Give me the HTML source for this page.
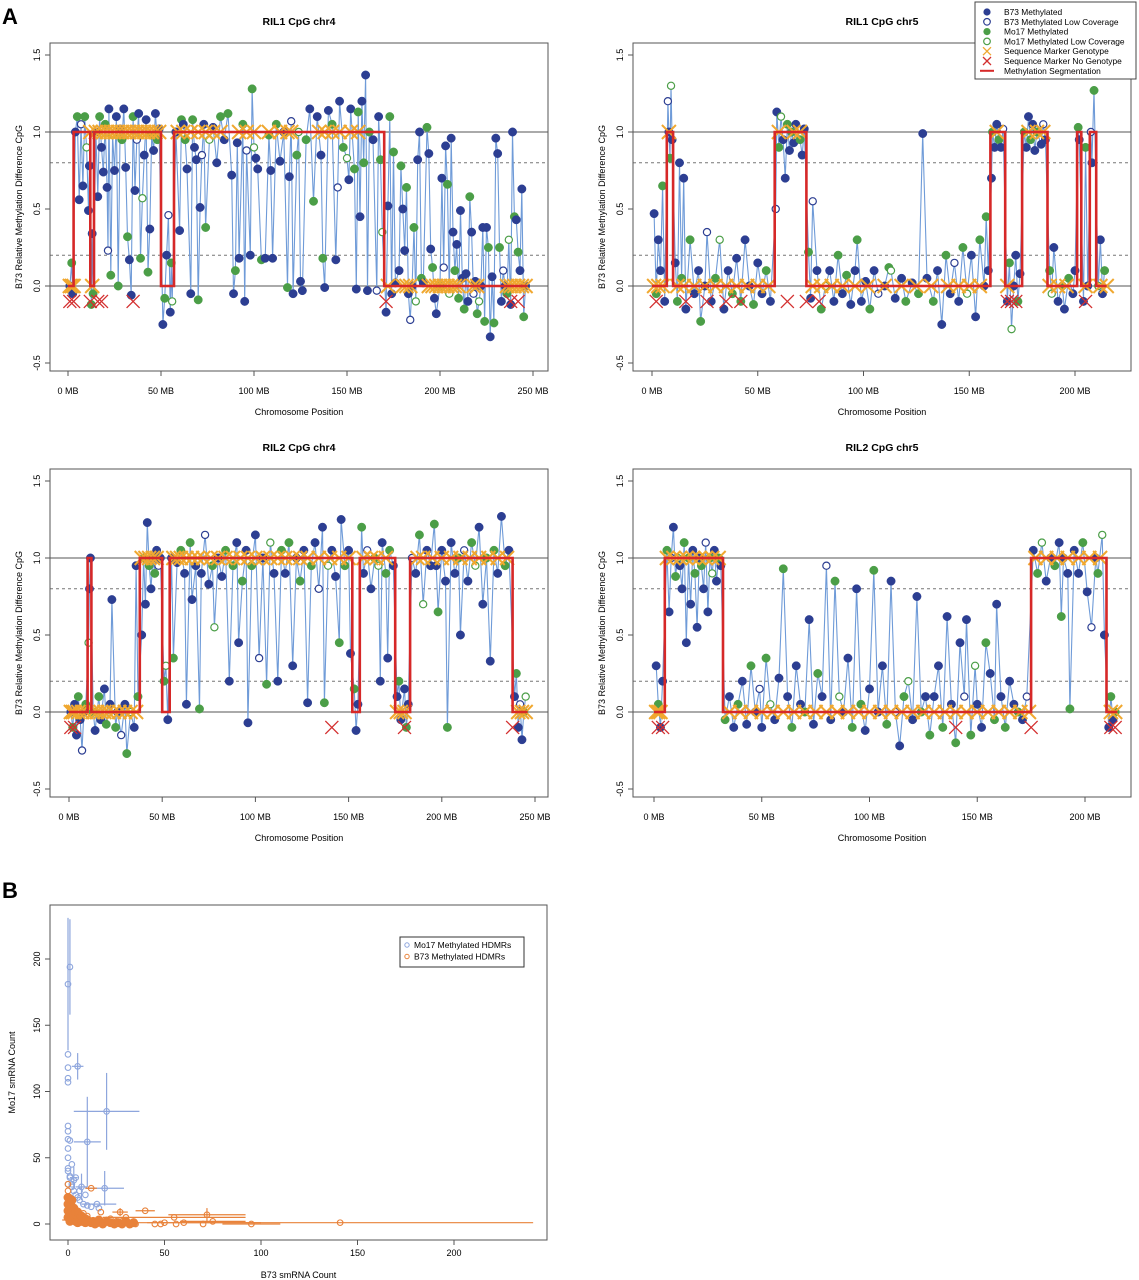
<!DOCTYPE html>
<html><head><meta charset="utf-8"><style>
html,body{margin:0;padding:0;background:#fff;}
svg{display:block;font-family:"Liberation Sans",Arial,sans-serif;}
</style></head><body>
<svg id="fig" width="1139" height="1280" viewBox="0 0 1139 1280" xmlns="http://www.w3.org/2000/svg">
<rect width="1139" height="1280" fill="#fff"/>
<text x="2" y="24" font-size="22" font-weight="bold">A</text>
<text x="2" y="898" font-size="22" font-weight="bold">B</text>
<g id="layer"></g>
</svg>
<script>
// ---------- Panel A data ----------
const p1Segments=[[0,3,0],[3,12,1],[12,14,0],[14,50,1],[50,57,0],[57,170,1],[170,247,0]];
const p1Points=[[1,0.0],[2,0.15],[2.5,-0.05],[4,1.0],[5,1.1],[6,0.56],[7,1.05],[8,0.65],[9,1.1],[10,0.9],[11,0.49],[11.5,0.78],[12.5,-0.12],[13,0.34],[13.5,-0.05],[15,1.0],[16,0.58],[17,1.1],[18,0.9],[19,0.74],[20,1.05],[21,0.64],[21.5,0.23],[22,1.15],[23,0.07],[24,0.98],[25,0.75],[26,1.1],[27,0.0],[28,1.02],[29,0.95],[30,1.15],[31,0.77],[32,0.32],[33,0.17],[34,-0.06],[35,1.1],[36,0.62],[37,0.95],[38,1.12],[39,0.18],[40,0.57],[41,0.85],[42,1.08],[43,0.09],[44,0.37],[45,0.98],[46,0.88],[47,1.12],[48,0.95],[49,1.02],[51,-0.25],[52,-0.08],[53,0.2],[54,0.46],[55,-0.17],[55.5,0.15],[56,-0.1],[58,1.0],[60,0.36],[61,1.08],[62,1.05],[63,0.95],[64,0.76],[66,-0.05],[67,1.08],[68,0.9],[69,0.82],[70,-0.09],[71,0.51],[72,0.85],[73,1.05],[74,0.38],[76,0.95],[78,1.03],[80,0.8],[82,1.1],[84,0.95],[86,1.12],[88,0.72],[89,-0.05],[90,0.1],[91,0.93],[92,0.18],[94,1.05],[95,-0.1],[96,0.88],[98,0.2],[99,1.28],[100,0.9],[101,0.83],[102,0.76],[104,0.17],[106,0.18],[108,0.98],[109,0.75],[110,0.18],[112,1.05],[114,0.81],[116,1.0],[118,-0.01],[119,0.71],[120,1.07],[121,-0.05],[123,0.85],[124,1.0],[125,0.03],[126,-0.03],[128,0.95],[130,1.15],[132,0.55],[134,1.1],[136,0.85],[137,0.18],[138,-0.01],[140,1.14],[142,1.05],[144,0.17],[145,0.64],[146,1.2],[148,0.9],[150,0.83],[151,0.69],[152,1.15],[154,0.76],[155,-0.02],[156,1.13],[157,0.45],[158,1.2],[159,0.8],[160,1.37],[161,-0.03],[162,1.0],[164,0.95],[166,-0.03],[167,1.1],[168,0.82],[169,0.35],[171,-0.17],[172,0.52],[173,1.1],[174,-0.05],[175,0.87],[176,0.02],[178,0.1],[179,0.78],[180,0.5],[181,0.23],[182,0.64],[183,-0.05],[184,-0.22],[185,0.0],[186,0.38],[187,-0.1],[188,0.82],[189,1.0],[190,0.05],[191,0.02],[193,1.03],[194,0.86],[195,0.24],[196,0.12],[197,-0.08],[198,-0.18],[200,0.0],[201,0.7],[202,0.12],[203,0.91],[204,0.66],[205,-0.05],[206,0.96],[207,0.35],[208,0.1],[209,0.27],[210,-0.08],[211,0.49],[212,0.05],[213,-0.15],[214,0.08],[215,-0.1],[216,0.58],[217,0.35],[218,-0.05],[219,0.03],[220,-0.18],[221,-0.1],[222,0.0],[223,0.38],[224,-0.23],[225,0.38],[226,0.25],[227,-0.33],[228,0.06],[229,-0.24],[230,0.96],[231,0.86],[232,0.25],[233,-0.1],[234,0.1],[235,0.0],[236,-0.05],[237,0.3],[238,-0.12],[239,1.0],[240,0.45],[241,0.43],[242,0.22],[243,0.1],[244,0.63],[245,-0.2],[246,0.0]];
const p1Geno=[1,2,3,12,13,15,17,19,21,23,25,27,29,31,33,35,37,39,41,43,45,47,49,59,62,66,70,74,78,82,92,96,100,108,114,118,120,135,138,142,146,152,156,172,180,182,184,194,196,198,200,202,204,206,208,210,218,220,236,238,240,242,244,246];
const p1NoGeno=[1,3,12,16,18,35,171,238,242];

const p2Segments=[[0,7,0],[7,10,1],[10,58,0],[58,73,1],[73,160,0],[160,167,1],[167,175,0],[175,187,1],[187,201,0],[201,203,1],[203,207,0],[207,210,1],[210,215,0]];
const p2Points=[[1,0.47],[2,-0.05],[3,0.3],[4,0.1],[5,0.65],[6,-0.1],[7.5,1.2],[8,1.0],[8.5,0.83],[9,1.3],[9.5,0.95],[11,0.15],[12,-0.1],[13,0.8],[14,0.05],[15,0.7],[16,-0.15],[18,0.3],[20,-0.05],[22,0.1],[23,-0.23],[25,0.0],[26,0.35],[28,-0.1],[30,0.05],[32,0.3],[34,-0.15],[36,0.1],[38,-0.05],[40,0.18],[42,-0.1],[44,0.3],[46,0.0],[48,-0.12],[50,0.15],[52,-0.05],[54,0.1],[56,-0.1],[58.5,0.5],[59,1.13],[60,0.9],[61,1.1],[62,0.95],[63,0.7],[64,1.05],[65,0.88],[66,1.0],[67,0.93],[68,1.05],[70,0.95],[71,0.85],[72,1.02],[74,0.22],[75,-0.08],[76,0.55],[78,0.1],[80,-0.15],[82,0.0],[84,0.1],[86,-0.1],[88,0.2],[90,-0.05],[92,0.07],[94,-0.12],[96,0.1],[97,0.3],[99,-0.1],[101,0.03],[103,-0.15],[105,0.1],[107,-0.05],[110,0.0],[112,0.12],[113,0.1],[115,-0.08],[118,0.05],[120,-0.1],[123,0.02],[126,-0.05],[128,0.99],[130,0.05],[133,-0.1],[135,0.1],[137,-0.25],[139,0.2],[141,-0.05],[143,0.15],[145,-0.1],[147,0.25],[149,-0.05],[151,0.2],[153,-0.2],[155,0.3],[157,0.0],[158,0.45],[159,0.1],[160.5,0.7],[161,1.0],[162,0.9],[163,1.05],[164,0.95],[165,0.9],[166,1.02],[168,-0.1],[169,0.15],[170,-0.28],[171,0.0],[172,0.2],[173,-0.1],[174,0.08],[176,1.0],[177,0.9],[178,1.1],[179,0.95],[180,1.05],[181,0.88],[182,1.0],[184,0.92],[185,1.05],[186,0.95],[188,0.1],[189,-0.05],[190,0.25],[192,-0.1],[194,0.0],[195,-0.15],[197,0.05],[199,-0.05],[200,0.1],[201.5,1.03],[202,0.95],[204,-0.1],[205,0.9],[206,0.0],[207.5,1.0],[208,0.8],[209,1.27],[211,0.0],[212,0.3],[213,-0.05],[214,0.1]];
const p2Geno=[1,3,5,8,12,15,20,25,30,35,40,45,50,55,60,67,70,76,80,85,90,96,102,110,118,125,132,140,145,150,155,163,168,178,182,185,188,192,196,205,212,215];
const p2NoGeno=[2,16,26,35,42,64,73,79,168,170,172,205];

const p3Segments=[[0,10,0],[10,12,1],[12,38,0],[38,50,1],[50,54,0],[54,152,1],[152,156,0],[156,175,1],[175,183,0],[183,238,1],[238,246,0]];
const p3Points=[[1,0.0],[2,-0.1],[3,0.05],[4,-0.15],[5,0.1],[6,-0.05],[7,-0.25],[8,0.0],[9,0.05],[10.5,0.45],[11,0.8],[11.5,1.0],[13,0.0],[14,-0.12],[16,0.1],[17,-0.05],[19,0.15],[20,-0.08],[22,0.05],[23,0.73],[25,-0.1],[26,0.0],[28,-0.15],[30,0.05],[31,-0.27],[33,0.0],[35,-0.1],[36,0.95],[37,0.1],[39,0.5],[40,1.0],[41,0.7],[42,1.23],[43,0.95],[44,0.8],[45,1.0],[46,0.9],[47,1.05],[48,0.95],[49,1.0],[51,0.2],[52,0.3],[53,-0.05],[55,1.0],[56,0.35],[58,0.97],[60,1.05],[62,0.9],[63,0.05],[65,1.1],[66,0.73],[68,0.95],[70,0.02],[71,0.9],[73,1.15],[75,0.83],[77,0.95],[78,0.55],[80,1.0],[82,0.88],[84,1.05],[86,0.2],[88,0.95],[90,1.1],[91,0.45],[93,0.85],[95,1.05],[96,-0.07],[98,0.95],[100,1.15],[102,0.35],[104,1.0],[106,0.18],[108,1.1],[110,0.9],[112,0.2],[114,1.05],[116,0.9],[118,1.1],[120,0.3],[122,1.0],[124,0.85],[126,1.05],[128,0.06],[130,0.95],[132,1.1],[134,0.8],[136,1.2],[137,0.06],[139,0.95],[141,1.05],[143,0.88],[145,0.45],[146,1.25],[148,0.95],[150,1.05],[151,0.38],[153,0.15],[154,-0.12],[155,0.05],[157,1.2],[158,0.9],[160,1.05],[162,0.8],[164,1.0],[166,0.95],[167,0.2],[168,1.1],[170,0.9],[171,0.35],[172,1.05],[174,0.95],[176,0.1],[177,0.2],[178,-0.05],[180,0.15],[181,-0.1],[182,0.05],[184,1.0],[186,0.9],[188,1.15],[190,0.7],[192,1.05],[194,0.95],[196,1.22],[197,0.95],[198,0.65],[200,1.05],[202,0.85],[203,-0.1],[205,1.1],[207,0.9],[209,1.0],[210,0.5],[212,1.05],[214,0.85],[216,1.1],[218,0.95],[220,1.2],[222,0.7],[224,1.0],[226,0.33],[228,1.05],[230,0.9],[232,1.27],[234,0.95],[236,1.05],[239,0.1],[240,0.25],[241,-0.1],[242,0.05],[243,-0.18],[244,0.0],[245,0.1]];
const p3Geno=[1,2,3,5,7,9,13,15,17,19,21,24,27,30,33,36,39,41,43,45,47,56,58,60,63,66,69,72,76,80,84,88,92,96,100,104,108,112,116,120,124,128,134,140,145,150,158,162,165,170,176,178,180,187,190,195,200,205,210,215,220,225,230,235,241,243,245];
const p3NoGeno=[1,3,141,180,238];

const p4Segments=[[0,5,0],[5,32,1],[32,175,0],[175,210,1],[210,215,0]];
const p4Points=[[1,0.3],[2,0.05],[3,-0.1],[4,0.2],[6,1.05],[7,0.65],[8,1.0],[9,1.2],[10,0.88],[11,1.0],[12,0.95],[13,0.8],[14,1.1],[15,0.45],[16,1.0],[17,0.7],[18,1.05],[19,0.9],[20,0.55],[21,1.0],[22,0.95],[23,0.8],[24,1.1],[25,0.65],[26,1.0],[27,0.9],[28,1.05],[29,0.85],[30,1.0],[31,0.95],[33,-0.05],[35,0.1],[37,-0.1],[39,0.05],[41,0.2],[43,-0.08],[45,0.3],[47,0.0],[49,0.15],[50,-0.1],[52,0.35],[54,0.05],[56,-0.05],[58,0.22],[60,0.93],[62,0.1],[64,-0.1],[66,0.3],[68,0.05],[70,0.0],[72,0.6],[74,-0.08],[76,0.25],[78,0.1],[80,0.95],[82,-0.05],[84,0.85],[86,0.1],[88,0.0],[90,0.35],[92,-0.1],[94,0.8],[96,0.05],[98,-0.12],[100,0.15],[102,0.92],[104,0.0],[106,0.3],[108,-0.08],[110,0.85],[112,0.0],[114,-0.22],[116,0.1],[118,0.2],[120,-0.05],[122,0.75],[124,0.0],[126,0.1],[128,-0.15],[130,0.1],[132,0.3],[134,-0.1],[136,0.62],[138,0.05],[140,-0.2],[142,0.45],[144,0.1],[145,0.6],[147,-0.15],[149,0.3],[150,0.05],[152,-0.1],[154,0.45],[156,0.25],[158,-0.05],[159,0.7],[161,0.1],[163,-0.1],[165,0.2],[167,0.05],[169,0.0],[171,-0.05],[173,0.1],[176,1.05],[178,0.9],[180,1.1],[182,0.85],[184,1.0],[186,0.95],[188,1.1],[189,0.62],[190,1.0],[192,0.9],[193,0.02],[195,1.05],[197,0.9],[199,1.1],[201,0.78],[203,0.55],[205,1.0],[206,0.9],[208,1.15],[209,0.5],[211,-0.1],[212,0.1],[213,-0.05],[214,0.0]];
const p4Geno=[1,2,3,6,9,12,15,18,21,24,27,30,35,40,45,50,55,60,65,70,75,80,85,90,95,100,105,110,115,120,125,130,135,140,145,150,155,160,165,170,174,177,182,187,192,197,202,207,212,214];
const p4NoGeno=[2,4,140,175,212,214];

const pointTypes="BMBBMBbBMmBBMBMB";
const yTicksA=[-0.5,0,0.5,1,1.5];
const xTicksChr4=[0,50,100,150,200,250];
const xTicksChr5=[0,50,100,150,200];

// ---------- Panel B data ----------
const blueX=[0,1,0,0,0,0,5,20,10,19,7,2,0,0,0,1,0,0,0,1,2,3,4,5,6,8,10,12,15,3,2,1,0,4,6,1,2,0,9,16];
const blueY=[181,194,128,118,110,107,119,85,62,27,28,45,74,70,64,63,57,50,40,35,30,25,22,20,18,15,14,13,15,33,28,36,42,35,25,20,18,30,22,12];
const blueErr=[[0,181,0,50],[1,194,0,36],[5,119,3,10],[20,85,17,29],[10,62,7,34],[19,27,10,13],[7,28,3,10],[16,15,9,0],[3,35,2,8]];
const orangeX=[141,95,75,72,55,40,27,12,70,50,48,56,30,20,17,25,35,33,22,10,8,5,3,2,1,0,0,1,4,6,14,18,28,45,60];
const orangeY=[1,0,2,7,5,10,9,27,0,1,0,0,5,3,9,2,0,1,4,6,8,10,12,15,20,25,30,3,2,5,1,0,2,0,1];
const orangeErr=[[141,1,100,0],[95,0,15,0],[75,2,17,0],[72,7,20,5],[55,5,37,0],[40,10,5,0],[27,9,4,3],[12,27,3,0],[50,1,50,0],[0,3,15,0]];
const blobX=[0,0,0,0,1,1,1,2,2,2,3,3,4,4,5,5,6,7,8,9,10,11,12,13,14,15,16,18,20,22,24,26,28,30,32,34,3,5,7,9];
const blobY=[5,10,15,20,2,8,14,4,10,18,3,7,2,6,1,5,3,2,4,1,3,2,1,2,0,1,3,0,2,1,0,1,0,2,0,1,12,9,6,4];
const xTicksB=[0,50,100,150,200];
const yTicksB=[0,50,100,150,200];

const NS="http://www.w3.org/2000/svg";
const layer=document.getElementById('layer');
function mk(tag,attrs,parent){const e=document.createElementNS(NS,tag);for(const k in attrs)e.setAttribute(k,attrs[k]);(parent||layer).appendChild(e);return e;}

const NAVY="#2c3e92",GREEN="#4b9e47",LINE="#6f9bd8",ORANGE="#f0a830",RED="#d32f2f",SEG="#d62828";

function drawPanel(cfg){
  const g=mk('g',{});
  
  
  const xs=v=>cfg.x0+v*cfg.kx;
  const ys=v=>cfg.y0-v*cfg.ky;
  [[1,false],[0,false],[0.8,true],[0.2,true]].forEach(([v,d])=>{
    const l=mk('line',{x1:cfg.L,x2:cfg.R,y1:ys(v),y2:ys(v),stroke:'#777','stroke-width':d?1:1.2,'stroke-dasharray':d?'3,3':'none'},g);
    
    
  });
  const pts=cfg.points;
  let d='';
  pts.forEach((p,i)=>{d+=(i?'L':'M')+xs(p[0]).toFixed(1)+','+ys(p[1]).toFixed(1);});
  const pl=mk('path',{d:d,fill:'none',stroke:LINE,'stroke-width':1.1},g);
  
  
  pts.forEach((p,i)=>{
    const t=pointTypes[i%pointTypes.length];
    const col=(t==='B'||t==='b')?NAVY:GREEN;
    const filled=(t==='B'||t==='M');
    const c=mk('circle',{cx:xs(p[0]),cy:ys(p[1]),r:filled?4.2:3.6,fill:filled?col:'#fff','stroke':col,'stroke-width':filled?0.5:1.2},g);
    
    
  });
  const levelAt=pos=>{for(const s of cfg.segments){if(pos>=s[0]&&pos<=s[1])return s[2];}return 0;};
  function cross(x,y,s,col,w){
    return mk('path',{d:`M${x-s},${y-s}L${x+s},${y+s}M${x-s},${y+s}L${x+s},${y-s}`,stroke:col,'stroke-width':w,fill:'none'},g);
  }
  cfg.geno.forEach(p=>{
    const e=cross(xs(p),ys(levelAt(p)),7,ORANGE,2);
    
    
  });
  cfg.nogeno.forEach(p=>{
    const e=cross(xs(p),ys(-0.1),6.5,RED,1.3);
    
    
  });
  let sd='';
  cfg.segments.forEach((s,i)=>{
    sd+=(i?'L':'M')+xs(s[0]).toFixed(1)+','+ys(s[2]).toFixed(1)+'L'+xs(s[1]).toFixed(1)+','+ys(s[2]).toFixed(1);
  });
  const sp=mk('path',{d:sd,fill:'none',stroke:SEG,'stroke-width':2.6},g);
  
  
  const b=mk('rect',{x:cfg.L,y:cfg.T,width:cfg.R-cfg.L,height:cfg.B-cfg.T,fill:'none',stroke:'#555','stroke-width':1},g);
  
  
  yTicksA.forEach(v=>{
    const y=ys(v);
    mk('line',{x1:cfg.L-5,x2:cfg.L,y1:y,y2:y,stroke:'#555'},g);
    const t=mk('text',{x:cfg.L-10,y:y,'font-size':9,'text-anchor':'middle',transform:`rotate(-90 ${cfg.L-10} ${y})`},g);
    t.textContent=(v===0?'0.0':v.toFixed(1));
    
    
  });
  cfg.xticks.forEach(v=>{
    const x=xs(v);
    mk('line',{x1:x,x2:x,y1:cfg.B,y2:cfg.B+5,stroke:'#555'},g);
    const t=mk('text',{x:x,y:cfg.B+23,'font-size':9,'text-anchor':'middle'},g);
    t.textContent=v+' MB';
    
    
  });
  const xt=mk('text',{x:(cfg.L+cfg.R)/2,y:cfg.B+44,'font-size':9,'text-anchor':'middle'},g);
  xt.textContent='Chromosome Position';
  
  
  const ym=(cfg.T+cfg.B)/2, yx=cfg.L-28;
  const yt=mk('text',{x:yx,y:ym,'font-size':9,'text-anchor':'middle',transform:`rotate(-90 ${yx} ${ym})`},g);
  yt.textContent='B73 Relative Methylation Difference CpG';
  
  
  const tt=mk('text',{x:(cfg.L+cfg.R)/2,y:cfg.T-18,'font-size':10.5,'font-weight':'bold','text-anchor':'middle','xml:space':'preserve'},g);
  tt.textContent=cfg.title;
  
  
}

drawPanel({name:'ril1-chr4-panel',title:'RIL1   CpG chr4',L:50,R:548,T:43,B:371,x0:68,kx:1.86,y0:286,ky:154,segments:p1Segments,points:p1Points,geno:p1Geno,nogeno:p1NoGeno,xticks:xTicksChr4});
drawPanel({name:'ril1-chr5-panel',title:'RIL1   CpG chr5',L:633,R:1131,T:43,B:371,x0:652,kx:2.115,y0:286,ky:154,segments:p2Segments,points:p2Points,geno:p2Geno,nogeno:p2NoGeno,xticks:xTicksChr5});
drawPanel({name:'ril2-chr4-panel',title:'RIL2   CpG chr4',L:50,R:548,T:469,B:797,x0:69,kx:1.864,y0:712,ky:154,segments:p3Segments,points:p3Points,geno:p3Geno,nogeno:p3NoGeno,xticks:xTicksChr4});
drawPanel({name:'ril2-chr5-panel',title:'RIL2   CpG chr5',L:633,R:1131,T:469,B:797,x0:654,kx:2.155,y0:712,ky:154,segments:p4Segments,points:p4Points,geno:p4Geno,nogeno:p4NoGeno,xticks:xTicksChr5});

(function(){
  const g=mk('g',{});
  
  
  mk('rect',{x:975,y:2,width:161,height:77,fill:'#fff',stroke:'#444','stroke-width':1},g);
  const items=[['B73 Methylated','dotB'],['B73 Methylated Low Coverage','openB'],['Mo17 Methylated','dotM'],['Mo17 Methylated Low Coverage','openM'],['Sequence Marker Genotype','xo'],['Sequence Marker No Genotype','xr'],['Methylation Segmentation','seg']];
  items.forEach((it,i)=>{
    const y=12+i*9.8, x=987;
    let s;
    if(it[1]==='dotB')s=mk('circle',{cx:x,cy:y,r:3.6,fill:NAVY},g);
    else if(it[1]==='openB')s=mk('circle',{cx:x,cy:y,r:3.3,fill:'#fff',stroke:NAVY,'stroke-width':1.2},g);
    else if(it[1]==='dotM')s=mk('circle',{cx:x,cy:y,r:3.6,fill:GREEN},g);
    else if(it[1]==='openM')s=mk('circle',{cx:x,cy:y,r:3.3,fill:'#fff',stroke:GREEN,'stroke-width':1.2},g);
    else if(it[1]==='xo')s=mk('path',{d:`M${x-4},${y-4}L${x+4},${y+4}M${x-4},${y+4}L${x+4},${y-4}`,stroke:ORANGE,'stroke-width':1.3},g);
    else if(it[1]==='xr')s=mk('path',{d:`M${x-4},${y-4}L${x+4},${y+4}M${x-4},${y+4}L${x+4},${y-4}`,stroke:RED,'stroke-width':1.3},g);
    else s=mk('line',{x1:x-7,x2:x+7,y1:y,y2:y,stroke:SEG,'stroke-width':2},g);
    
    
    const t=mk('text',{x:1004,y:y+3,'font-size':8.4},g);
    t.textContent=it[0];
    
    
  });
})();

(function(){
  const L=50,R=547,T=905,B=1240;
  const xs=v=>68+v*1.93, ys=v=>1224-v*1.325;
  const BLUE="#8ea6dd",ORG="#e8823a";
  const g=mk('g',{});
  
  
  function errBars(arr,col){
    arr.forEach(e=>{
      if(e[2]>0){const l=mk('line',{x1:xs(Math.max(e[0]-e[2],-3)),x2:xs(e[0]+e[2]),y1:ys(e[1]),y2:ys(e[1]),stroke:col,'stroke-width':1.2},g);
        
        }
      if(e[3]>0){const l=mk('line',{x1:xs(e[0]),x2:xs(e[0]),y1:ys(e[1]-e[3]),y2:ys(e[1]+e[3]),stroke:col,'stroke-width':1.2},g);
        
        }
    });
  }
  errBars(blueErr,BLUE);
  blueX.forEach((x,i)=>{
    const c=mk('circle',{cx:xs(x),cy:ys(blueY[i]),r:2.8,fill:'none',stroke:BLUE,'stroke-width':1.1},g);
    
    
  });
  errBars(orangeErr,ORG);
  blobX.forEach((x,i)=>{
    const c=mk('circle',{cx:xs(x),cy:ys(blobY[i]),r:4,fill:ORG,stroke:ORG,'stroke-width':1},g);
    
    
  });
  orangeX.forEach((x,i)=>{
    const c=mk('circle',{cx:xs(x),cy:ys(orangeY[i]),r:2.8,fill:'none',stroke:ORG,'stroke-width':1.1},g);
    
    
  });
  const fr=mk('rect',{x:L,y:T,width:R-L,height:B-T,fill:'none',stroke:'#555'},g);
  
  
  xTicksB.forEach(v=>{
    mk('line',{x1:xs(v),x2:xs(v),y1:B,y2:B+5,stroke:'#555'},g);
    const t=mk('text',{x:xs(v),y:B+16,'font-size':9,'text-anchor':'middle'},g);
    t.textContent=v;
    
    
  });
  yTicksB.forEach(v=>{
    mk('line',{x1:L-5,x2:L,y1:ys(v),y2:ys(v),stroke:'#555'},g);
    const t=mk('text',{x:L-10,y:ys(v),'font-size':9,'text-anchor':'middle',transform:`rotate(-90 ${L-10} ${ys(v)})`},g);
    t.textContent=v;
    
    
  });
  const xt=mk('text',{x:(L+R)/2,y:1278,'font-size':9,'text-anchor':'middle'},g);
  xt.textContent='B73 smRNA Count';
  
  
  const yt=mk('text',{x:15,y:(T+B)/2,'font-size':9,'text-anchor':'middle',transform:`rotate(-90 15 ${(T+B)/2})`},g);
  yt.textContent='Mo17 smRNA Count';
  
  
  const lg=mk('g',{},g);
  
  
  mk('rect',{x:400,y:937,width:124,height:30,fill:'#fff',stroke:'#333','stroke-width':1},lg);
  [['Mo17 Methylated HDMRs',BLUE],['B73 Methylated HDMRs',ORG]].forEach((it,i)=>{
    const y=945+i*11.5;
    const c=mk('circle',{cx:407,cy:y,r:2.2,fill:'none',stroke:it[1],'stroke-width':1},lg);
    
    
    const t=mk('text',{x:414,y:y+3,'font-size':8.5},lg);
    t.textContent=it[0];
    
    
  });
})();
</script>
</body></html>
